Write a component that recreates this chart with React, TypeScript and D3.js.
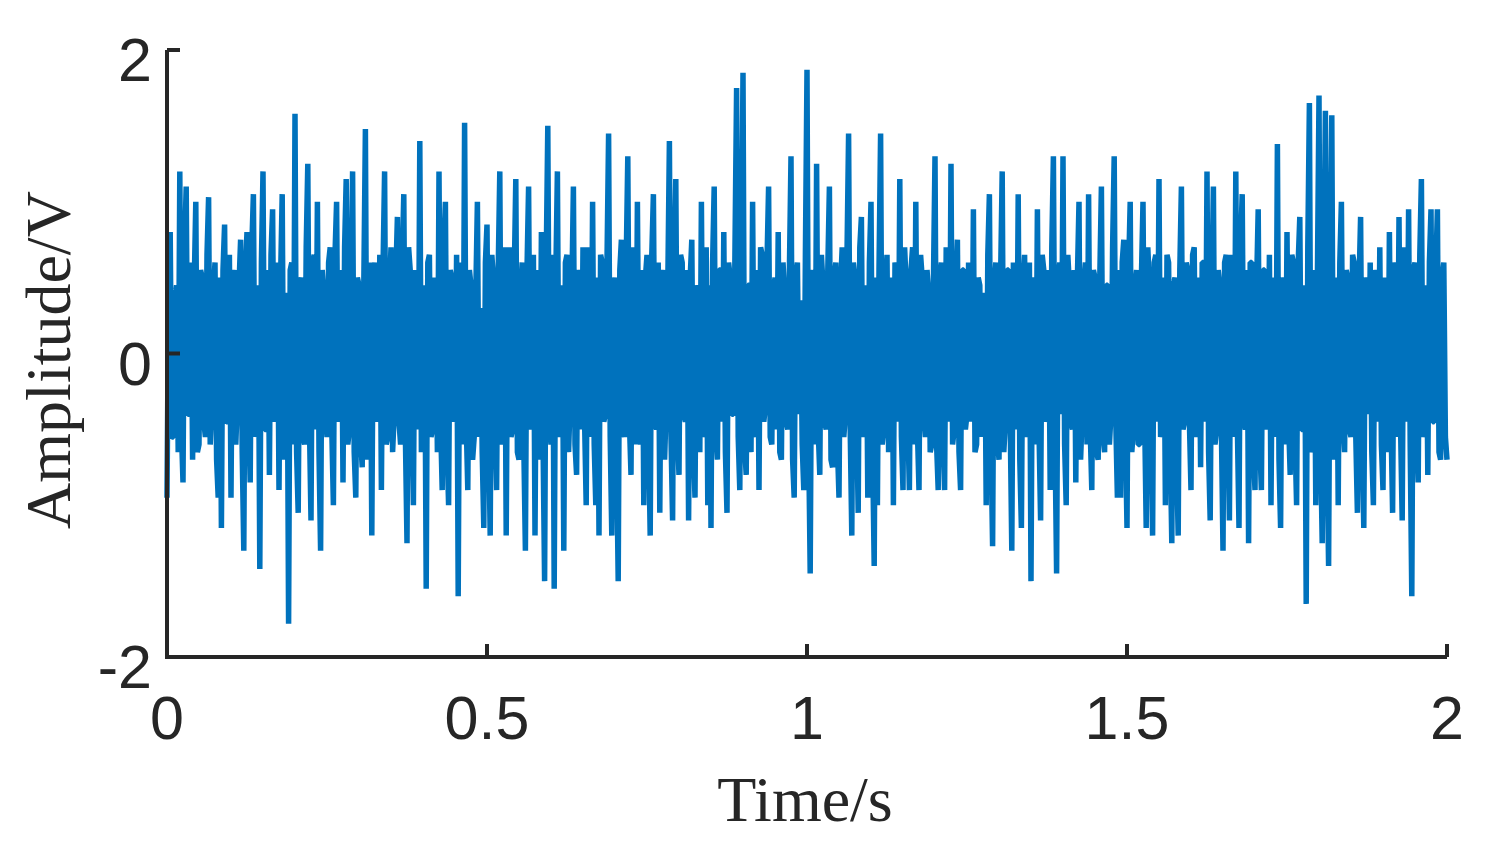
import React from 'react';
import * as d3 from 'd3';

// peak/trough samples at 5 ms steps (0 .. 2 s)
const sampleStep = 0.005;
const amplitude = [
  -0.95, 0.8, -0.55, 0.45, 1.2, -0.85, 1.1, -0.4, -0.7, 1.0,
  -0.6, 0.5, -0.55, 1.03, -0.35, 0.6, -0.95, -1.15, 0.85, -0.45,
  -0.95, 0.55, -0.3, 0.75, -1.3, 0.8, -0.85, 1.05, -0.4, -1.42,
  1.2, -0.5, -0.8, 0.95, -0.3, -0.9, 1.05, -0.45, -1.78, 0.6,
  1.58, -1.05, 0.5, -0.6, 1.25, -1.1, 0.65, 1.0, -1.3, 0.4,
  -0.55, 0.7, -1.0, 1.0, -0.3, -0.85, 1.15, -0.5, 1.2, -0.95,
  0.45, -0.75, 1.48, -0.4, -1.2, 0.6, -0.35, -0.9, 1.2, -0.55,
  0.7, -0.4, 0.9, -0.6, 1.05, -1.25, 0.55, -1.0, 0.4, 1.4,
  -0.45, -1.55, 0.65, -0.5, 0.35, 1.2, -0.9, 1.0, -1.0, 0.5,
  -0.4, -1.6, 0.6, 1.52, -0.9, 0.45, -0.55, 1.0, 0.3, -1.15,
  0.85, -1.2, 0.5, -0.9, 1.2, -0.35, -1.2, 0.7, -0.5, 1.15,
  -0.7, 0.6, -1.3, 1.1, -0.4, -1.2, 0.55, 0.8, -1.5, 1.5,
  -0.6, -1.55, 1.2, -0.45, -1.3, 0.65, -0.3, 1.1, -0.8, 0.5,
  0.7, -1.0, 0.45, 1.0, -1.0, -1.2, 0.6, -0.4, 1.45, -1.2,
  0.5, -1.5, 0.75, -0.55, 1.3, -0.8, 0.45, 1.0, -0.6, -1.0,
  0.65, -1.2, 1.05, -0.5, -1.05, 0.55, -0.35, 1.4, -1.1, 1.15,
  -0.8, 0.6, -0.45, -1.1, 0.75, -0.95, 0.4, 1.0, -0.5, -1.0,
  -1.15, 1.1, -0.7, 0.55, 0.8, -1.05, 0.5, -0.4, 1.75, -0.9,
  1.85, -0.8, 0.45, 1.0, -0.55, -0.9, 0.65, -0.35, 1.1, -0.6,
  0.5, 0.8, -0.7, 0.4, -0.5, 1.3, -0.95, 0.6, 0.35, -0.9,
  1.87, -1.45, 0.55, 1.25, -0.8, 0.45, -0.5, 1.1, -0.75, 0.6,
  -0.95, 0.7, -0.4, 1.45, -1.2, 0.5, -1.05, 0.9, -0.45, -0.95,
  1.0, -1.4, -1.0, 1.45, -0.5, 0.65, -0.35, -1.0, 0.55, 1.15,
  -0.9, 0.45, -0.9, 0.7, 1.0, -0.9, 0.5, -0.55, 0.4, -0.6,
  1.3, -0.9, 0.6, -0.9, 0.45, 1.25, -0.5, 0.75, -0.9, 0.55,
  -0.4, 0.5, 0.95, -0.6, 0.45, -0.35, -1.0, 1.05, -1.27, 0.6,
  -0.7, 1.2, -0.45, 0.55, -1.3, 0.4, 1.05, -1.15, 0.65, -0.5,
  -1.5, 0.5, 0.95, -1.1, 0.55, -0.4, -0.9, 1.3, -1.45, 0.6,
  1.3, -1.0, 0.45, -0.5, -0.85, 1.0, -0.4, 0.6, 1.05, -0.9,
  0.5, -0.7, 1.1, -0.65, 0.45, -0.4, 1.3, -0.95, -0.95, 0.75,
  -1.15, 1.0, -0.5, 0.55, -0.6, 1.0, -1.15, 0.45, -1.2, 0.65,
  1.15, -0.5, -1.0, 0.6, -1.25, 0.5, -1.2, 1.1, -0.45, 0.55,
  -0.9, 0.7, -0.4, -0.75, 0.6, 1.2, -1.1, 1.1, -0.5, 0.45,
  -1.3, 0.65, -1.1, 0.5, 1.2, -1.15, 1.05, -0.5, -1.25, 0.6,
  -0.9, 0.95, -0.9, 0.55, -0.4, -1.0, 0.5, 1.38, -1.15, 0.45,
  0.8, -0.8, 0.6, -1.0, 0.9, -0.5, -1.65, 1.65, -0.6, -1.0,
  1.7, -1.25, 1.6, -1.4, 1.57, -0.45, -1.0, 1.0, -0.65, 0.5,
  -0.55, 0.6, -1.05, 0.9, -1.15, 0.45, 0.6, -1.0, 0.5, 0.7,
  -0.9, 0.4, 0.8, -1.05, 0.55, 0.9, -1.1, 0.5, 0.95, -1.6,
  0.6, -0.85, 1.15, -0.5, -0.8, 0.95, -0.45, 0.95, -0.7, 0.6,
  -0.7,
];

// in-between samples of the dense core (estimated), one after each value above
const coreAmplitude = [
  0.45, -0.55, 0.35, -0.65, -0.5, 0.7, -0.4, 0.6, 0.45, -0.65,
  0.55, -0.45, 0.65, -0.6, 0.4, -0.7, 0.5, 0.55, -0.45, 0.65,
  0.5, -0.6, 0.45, -0.65, 0.55, -0.4, 0.7, -0.55, 0.45, 0.6,
  -0.5, 0.55, 0.65, -0.45, 0.6, 0.5, -0.7, 0.4, 0.55, -0.6,
  -0.65, 0.45, -0.55, 0.7, -0.45, 0.6, -0.5, -0.65, 0.55, -0.4,
  0.6, -0.5, 0.65, -0.45, 0.55, 0.7, -0.6, 0.45, -0.65, 0.5,
  -0.55, 0.45, -0.7, 0.6, 0.5, -0.45, 0.65, 0.55, -0.6, 0.4,
  -0.65, 0.5, -0.45, 0.6, -0.55, 0.7, -0.4, 0.55, -0.5, -0.65,
  0.45, 0.6, -0.55, 0.5, -0.65, -0.45, 0.7, -0.6, 0.55, -0.45,
  0.65, 0.5, -0.6, -0.45, 0.55, -0.7, 0.4, -0.55, -0.65, 0.6,
  -0.5, 0.65, -0.45, 0.55, -0.6, 0.7, 0.45, -0.55, 0.5, -0.65,
  0.4, -0.6, 0.55, -0.5, 0.65, 0.45, -0.7, -0.55, 0.6, -0.45,
  0.65, 0.5, -0.55, 0.45, 0.6, -0.65, 0.4, -0.6, 0.55, -0.5,
  -0.45, 0.7, -0.55, -0.6, 0.5, 0.65, -0.45, 0.6, -0.55, 0.4,
  -0.65, 0.55, -0.5, 0.6, -0.45, 0.7, -0.6, -0.4, 0.55, 0.5,
  -0.55, 0.65, -0.45, 0.6, 0.5, -0.7, 0.45, -0.55, 0.6, -0.5,
  0.65, -0.4, 0.55, 0.5, -0.6, 0.45, -0.65, -0.55, 0.7, 0.45,
  0.6, -0.5, 0.55, -0.45, -0.65, 0.6, -0.4, 0.7, -0.55, 0.5,
  -0.6, 0.45, -0.65, -0.5, 0.55, 0.7, -0.45, 0.6, -0.55, 0.4,
  -0.5, -0.65, 0.6, -0.45, 0.55, -0.7, 0.5, -0.4, -0.6, 0.65,
  -0.55, 0.45, -0.6, -0.5, 0.65, -0.45, 0.55, -0.7, 0.5, -0.6,
  0.45, -0.55, 0.65, -0.5, 0.6, -0.4, 0.7, -0.55, 0.45, 0.6,
  -0.65, 0.5, 0.55, -0.6, 0.45, -0.65, 0.5, 0.6, -0.45, -0.55,
  0.7, -0.45, 0.55, -0.6, -0.5, 0.65, -0.4, 0.55, -0.65, 0.45,
  -0.6, 0.5, -0.55, 0.7, -0.45, -0.6, 0.45, -0.65, 0.55, -0.5,
  0.6, -0.45, -0.65, 0.5, -0.55, 0.4, 0.65, -0.6, 0.45, -0.55,
  0.5, -0.65, 0.55, -0.45, 0.6, -0.5, -0.7, 0.45, -0.55, 0.6,
  0.45, -0.6, -0.5, 0.65, -0.45, 0.55, 0.7, -0.55, 0.5, -0.4,
  -0.6, 0.65, -0.45, 0.55, 0.5, -0.7, 0.45, -0.6, -0.5, 0.55,
  -0.65, 0.5, -0.55, 0.45, -0.6, 0.7, -0.45, 0.55, 0.6, -0.5,
  0.55, -0.65, 0.45, -0.6, 0.5, -0.4, 0.7, -0.55, 0.6, -0.45,
  -0.55, 0.5, 0.65, -0.6, 0.45, -0.7, 0.55, -0.5, 0.6, -0.45,
  0.65, -0.55, 0.5, 0.6, -0.45, -0.65, 0.4, -0.6, 0.55, -0.5,
  0.6, -0.45, 0.65, -0.55, -0.5, 0.7, -0.45, 0.55, 0.6, -0.65,
  0.45, -0.6, 0.55, -0.5, 0.65, 0.4, -0.55, -0.7, 0.5, -0.6,
  -0.45, 0.65, -0.55, 0.6, -0.5, 0.45, 0.7, -0.65, 0.55, 0.5,
  -0.6, 0.45, -0.65, 0.55, -0.7, 0.5, 0.6, -0.45, 0.55, -0.5,
  0.65, -0.55, 0.45, -0.6, 0.5, -0.4, -0.65, 0.55, -0.45, -0.6,
  0.5, -0.65, -0.45, 0.6, -0.55, -0.5, 0.7, -0.45, -0.6, 0.55,
  -0.5, 0.65, -0.55, 0.45, 0.6, -0.45, 0.55, -0.65, 0.5, -0.55,
];

const xTicks = [0, 0.5, 1, 1.5, 2];
const yTicks = [-2, 0, 2];

const W = 1492;
const H = 846;
const margin = { top: 50, right: 45, bottom: 189, left: 167 };
const axisColor = '#262626';
const lineColor = '#0072BD';

// interleave the two sample sets into one series at half the step
const signal: [number, number][] = [];
amplitude.forEach((v, i) => {
  signal.push([i * sampleStep, v]);
  if (i < coreAmplitude.length) signal.push([(i + 0.5) * sampleStep, coreAmplitude[i]]);
});

export default function App() {
  const x = d3.scaleLinear()
    .domain([0, 2])
    .range([margin.left, W - margin.right]);
  const y = d3.scaleLinear()
    .domain([-2, 2])
    .range([H - margin.bottom, margin.top]);

  const line = d3.line<[number, number]>()
    .x(d => x(d[0]))
    .y(d => y(d[1]));

  const x0 = x(0);
  const y0 = y(-2);
  const tickLen = 13;

  return (
    <svg width={W} height={H} style={{ position: 'absolute', left: 0, top: 0 }}>
      <rect width={W} height={H} fill="#fff" />
      <path d={line(signal) || ''} fill="none" stroke={lineColor}
        strokeWidth={5.5} strokeLinejoin="bevel" />

      {/* axes, ticks pointing inwards */}
      <g stroke={axisColor} strokeWidth={4} fill="none">
        <path d={`M${x0},${y(2)}V${y0}H${x(2)}`} />
        {xTicks.map(t => (
          <line key={t} x1={x(t)} x2={x(t)} y1={y0} y2={y0 - tickLen} />
        ))}
        {yTicks.map(t => (
          <line key={t} x1={x0} x2={x0 + tickLen} y1={y(t)} y2={y(t)} />
        ))}
      </g>

      <g fill={axisColor} fontFamily="Arial, 'Liberation Sans', sans-serif" fontSize={61}>
        {xTicks.map(t => (
          <text key={t} x={x(t)} y={y0 + 82} textAnchor="middle">{t}</text>
        ))}
        {yTicks.map(t => (
          <text key={t} x={x0 - 15} y={y(t) + 31} textAnchor="end">{t}</text>
        ))}
      </g>

      <g fill={axisColor} fontFamily="'Times New Roman', 'Liberation Serif', serif" fontSize={64}>
        <text x={805} y={821} textAnchor="middle">Time/s</text>
        <text transform={`translate(70,360) rotate(-90)`} textAnchor="middle">Amplitude/V</text>
      </g>
    </svg>
  );
}
